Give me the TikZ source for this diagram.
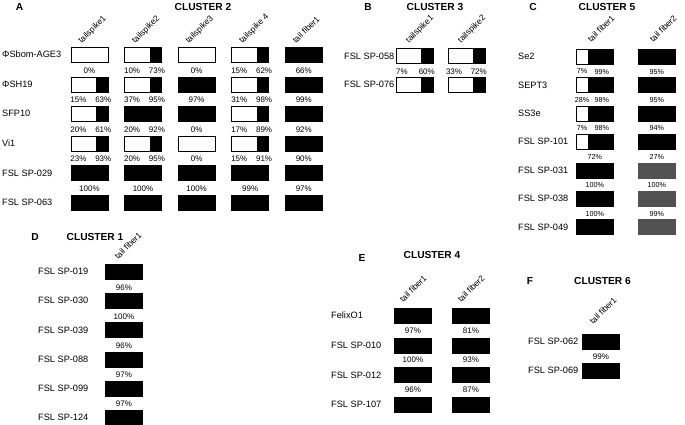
\documentclass[tikz,border=0pt]{standalone}
\usepackage{fontspec}
\setmainfont{Liberation Sans}
\usetikzlibrary{positioning}
\begin{document}
\begin{tikzpicture}[x=1pt,y=-1pt,
  barw/.style={draw=black,line width=0.8pt,fill=white,minimum width=37pt,minimum height=15pt,inner sep=0pt,anchor=north west},
  barb/.style={barw,fill=black},
  barg/.style={barw,draw=black!68,fill=black!68},
  bars/.style={barw,path picture={\fill[black] ([xshift=-12pt]path picture bounding box.north east) rectangle (path picture bounding box.south east);}},
  barc/.style={barw,path picture={\fill[black] ([xshift=12pt]path picture bounding box.north west) rectangle (path picture bounding box.south east);}},
  lbl/.style={font=\fontsize{9.2}{10}\selectfont,anchor=west,inner sep=0pt},
  pct/.style={font=\fontsize{8}{9}\selectfont,inner sep=0pt},
  pctc/.style={font=\fontsize{7.2}{8}\selectfont,inner sep=0pt},
  hdr/.style={font=\fontsize{8.4}{9}\selectfont,rotate=45,anchor=base west,inner sep=0pt},
  ttl/.style={font=\fontsize{10.2}{12}\selectfont\bfseries,inner sep=0pt}]
  \useasboundingbox (0,0) rectangle (685,425);
  \node[ttl] (A) at (19.5,7) {A};
  \node[ttl] (cl2) at (203,7) {CLUSTER 2};
  \foreach \row/\types [count=\r] in {ΦSbom-AGE3/{w,s,w,s,b},ΦSH19/{s,s,b,s,b},SFP10/{s,b,b,s,b},Vi1/{s,s,w,s,b},FSL SP-029/{b,b,b,b,b},FSL SP-063/{b,b,b,b,b}}{
    \node[lbl] (a-n\r) at ({2},{54.5+29.6*(\r-1)}) {\row};
    \foreach \t [count=\c] in \types
      \node[bar\t] (a-\r-\c) at ({70.5+53.6*(\c-1)},{47+29.6*(\r-1)}) {};
  }
  \foreach \h [count=\c] in {tailspike1,tailspike2,tailspike3,tailspike 4,tail fiber1}
    \node[hdr] (a-h\c) at ([shift={(11,-3)}]a-1-\c.north west) {\h};
  \foreach \r/\c/\p in {1/1/0,1/3/0,1/5/66,2/3/97,2/5/99,3/3/0,3/5/92,4/3/0,4/5/90,5/1/100,5/2/100,5/3/100,5/4/99,5/5/97}
    \node[pct,below=4.5pt of a-\r-\c] (a-p\r-\c) {\p\%};
  \foreach \r/\c/\p/\q in {1/2/10/73,1/4/15/62,2/1/15/63,2/2/37/95,2/4/31/98,3/1/20/61,3/2/20/92,3/4/17/89,4/1/23/93,4/2/20/95,4/4/15/91}{
    \node[pct,anchor=north] (a-l\r-\c) at ([shift={(8,4.5)}]a-\r-\c.south west) {\p\%};
    \node[pct,anchor=north] (a-r\r-\c) at ([shift={(-5,4.5)}]a-\r-\c.south east) {\q\%};
  }

  \node[ttl] (B) at (368,7) {B};
  \node[ttl] (cl3) at (435,7) {CLUSTER 3};
  \foreach \row [count=\r] in {FSL SP-058,FSL SP-076}{
    \node[lbl] (b-n\r) at ({344},{56+28.5*(\r-1)}) {\row};
    \foreach \c in {1,2}
      \node[bars] (b-\r-\c) at ({396+52*(\c-1)},{48.5+28.5*(\r-1)}) {};
  }
  \foreach \h [count=\c] in {tailspike1,tailspike2}
    \node[hdr] (b-h\c) at ([shift={(13,-5)}]b-1-\c.north west) {\h};
  \foreach \c/\p/\q in {1/7/60,2/33/72}{
    \node[pct,anchor=north] (b-l\c) at ([shift={(6,4)}]b-1-\c.south west) {\p\%};
    \node[pct,anchor=north] (b-r\c) at ([shift={(-7,4)}]b-1-\c.south east) {\q\%};
  }

  \node[ttl] (C) at (533,7) {C};
  \node[ttl] (cl5) at (607,7) {CLUSTER 5};
  \foreach \row/\types [count=\r] in {Se2/{c,b},SEPT3/{c,b},SS3e/{c,b},FSL SP-101/{c,b},FSL SP-031/{b,g},FSL SP-038/{b,g},FSL SP-049/{b,g}}{
    \node[lbl] (c-n\r) at ({518},{56.5+28.4*(\r-1)}) {\row};
    \foreach \t [count=\c] in \types
      \node[bar\t] (c-\r-\c) at ({576+62*(\c-1)},{49+28.4*(\r-1)}) {};
  }
  \foreach \h [count=\c] in {tail fiber1,tail fiber2}
    \node[hdr] (c-h\c) at ([shift={(15,-6)}]c-1-\c.north west) {\h};
  \foreach \r/\c/\p in {1/2/95,2/2/95,3/2/94,4/1/72,4/2/27,5/1/100,5/2/100,6/1/100,6/2/99}
    \node[pctc,below=4pt of c-\r-\c] (c-p\r-\c) {\p\%};
  \foreach \r/\p/\q in {1/7/99,2/28/98,3/7/98}{
    \node[pctc,anchor=north] (c-l\r) at ([shift={(6,4)}]c-\r-1.south west) {\p\%};
    \node[pctc,anchor=north] (c-r\r) at ([shift={(-12,4)}]c-\r-1.south east) {\q\%};
  }

  \node[ttl] (D) at (35,237) {D};
  \node[ttl] (cl1) at (95,237) {CLUSTER 1};
  \foreach \row [count=\r] in {FSL SP-019,FSL SP-030,FSL SP-039,FSL SP-088,FSL SP-099,FSL SP-124}{
    \node[lbl] (d-n\r) at ({38},{271.5+29.2*(\r-1)}) {\row};
    \node[barb] (d-\r) at ({105},{264+29.2*(\r-1)}) {};
  }
  \node[hdr] (d-h1) at ([shift={(13,-4)}]d-1.north west) {tail fiber1};
  \foreach \r/\p in {1/96,2/100,3/96,4/97,5/97}
    \node[pct,below=4.5pt of d-\r] (d-p\r) {\p\%};

  \node[ttl] (E) at (362,258) {E};
  \node[ttl] (cl4) at (432,255) {CLUSTER 4};
  \foreach \row [count=\r] in {FelixO1,FSL SP-010,FSL SP-012,FSL SP-107}{
    \node[lbl] (e-n\r) at ({331},{315.5+29.7*(\r-1)}) {\row};
    \foreach \c in {1,2}
      \node[barb] (e-\r-\c) at ({394+58*(\c-1)},{308+29.7*(\r-1)}) {};
  }
  \foreach \h [count=\c] in {tail fiber1,tail fiber2}
    \node[hdr] (e-h\c) at ([shift={(9,-5)}]e-1-\c.north west) {\h};
  \foreach \r/\c/\p in {1/1/97,1/2/81,2/1/100,2/2/93,3/1/96,3/2/87}
    \node[pct,below=3.5pt of e-\r-\c] (e-p\r-\c) {\p\%};

  \node[ttl] (F) at (530,280.5) {F};
  \node[ttl] (cl6) at (602.5,280.5) {CLUSTER 6};
  \foreach \row [count=\r] in {FSL SP-062,FSL SP-069}{
    \node[lbl] (f-n\r) at ({528},{341.5+29*(\r-1)}) {\row};
    \node[barb] (f-\r) at ({582},{334+29*(\r-1)}) {};
  }
  \node[hdr] (f-h1) at ([shift={(11,-9)}]f-1.north west) {tail fiber1};
  \node[pct,below=4pt of f-1] (f-p1) {99\%};
\end{tikzpicture}
\end{document}
